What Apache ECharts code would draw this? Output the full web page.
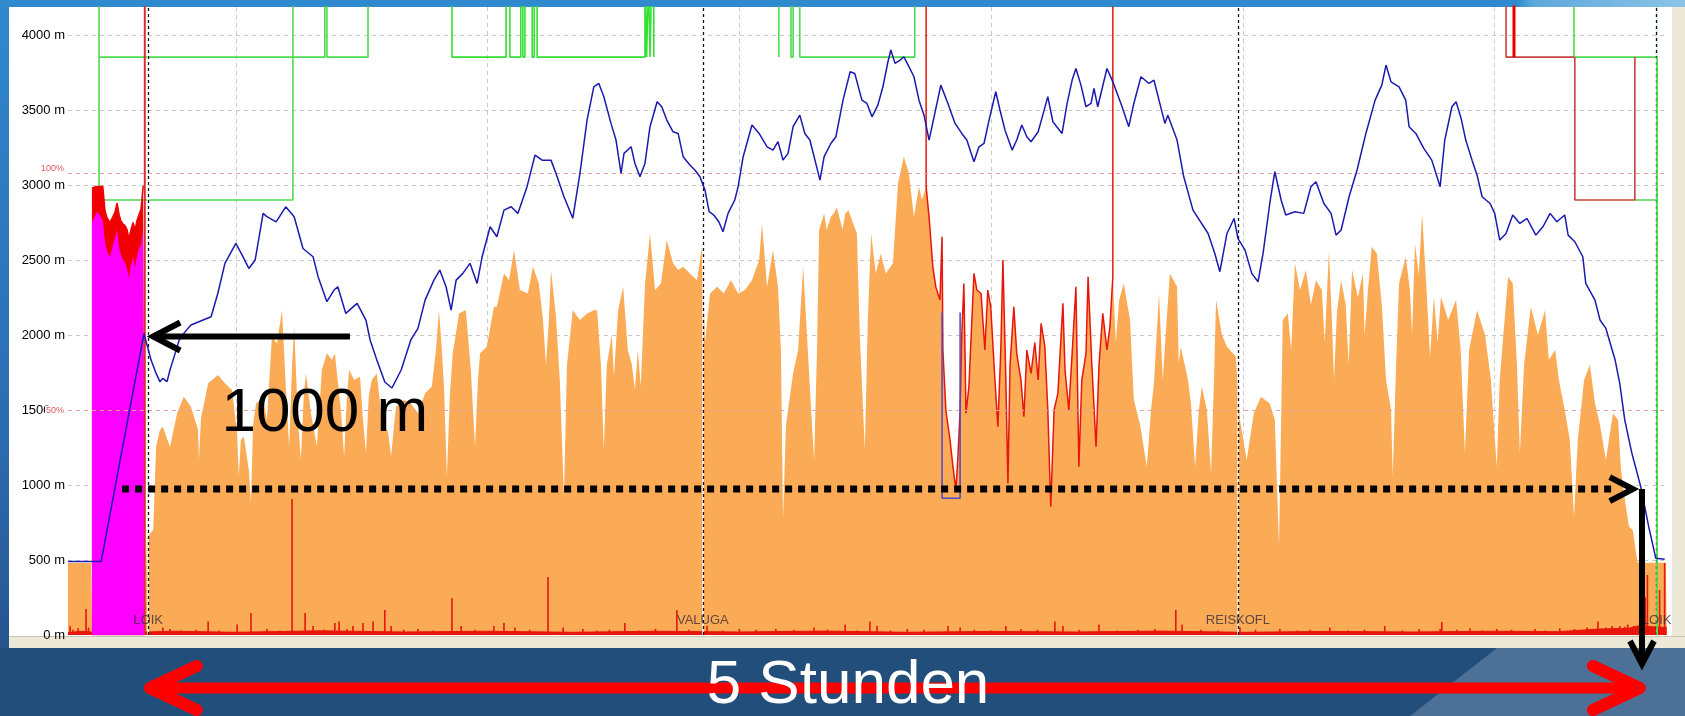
<!DOCTYPE html>
<html><head><meta charset="utf-8">
<script src="https://cdn.jsdelivr.net/npm/echarts/dist/echarts.min.js"></script>
<style>
html,body{margin:0;padding:0;width:1685px;height:716px;overflow:hidden;background:#224e7b;}
#bgTop{position:absolute;left:0;top:0;width:1685px;height:7px;background:linear-gradient(90deg,#2f8bce 0%,#2f8bce 90%,#5ea8db 91%,#8cc4e6 100%);}
#bgLeft{position:absolute;left:0;top:7px;width:9px;height:641px;background:linear-gradient(180deg,#2f88cc,#2b6aae 70%,#27558e);}
#panel{position:absolute;left:9px;top:7px;width:1663px;height:630px;background:#fff;}
#rbar{position:absolute;left:1672px;top:7px;width:13px;height:641px;background:#ece9d8;}
#bbar{position:absolute;left:9px;top:636px;width:1676px;height:12px;background:#ece9d8;border-top:1px solid #c8c5b5;box-sizing:border-box;}
#botLight{position:absolute;left:0;top:648px;width:1685px;height:68px;background:#4d7096;clip-path:polygon(1497px 0,1685px 0,1685px 68px,1410px 68px);}
#chart{position:absolute;left:0;top:0;width:1685px;height:716px;}
</style></head>
<body>
<div id="bgTop"></div><div id="bgLeft"></div><div id="panel"></div><div id="rbar"></div><div id="bbar"></div><div id="botLight"></div>
<div id="chart"></div>
<script>
// ---- data (time in minutes, values in metres) ----
const TOP = 4400, MID = 3853, LOW = 2900;
const yTicks = [500,1000,1500,2000,2500,3000,3500,4000];
const gridHours = [40,100,160,220,280,340];
const waypoints = ['LOIK','VALUGA','REISKOFL','LOIK'];
const waypointTimes = [19.1,151.3,278.8,378.6];
const percentLevels = [3080,1500];
const percentLabels = ['100%','50%'];

const altitude = [[0,490],[7.9,490],[18.1,2010],[19.8,1833],[21.0,1744],[21.9,1689],[22.6,1711],[23.6,1689],[24.3,1767],[25.3,1856],[26.5,1967],[27.6,2011],[29.3,2067],[34.1,2122],[35.7,2277],[37.4,2478],[40.0,2611],[41.5,2533],[43.1,2444],[44.6,2500],[46.5,2811],[47.4,2789],[49.6,2755],[51.9,2855],[53.9,2789],[56.0,2577],[58.4,2522],[59.6,2389],[61.7,2222],[63.4,2300],[64.3,2322],[66.2,2144],[68.9,2211],[71.0,2100],[72.0,1967],[73.6,1833],[75.5,1687],[77.2,1647],[79.4,1767],[81.7,1967],[83.4,2044],[85.1,2233],[87.2,2366],[88.6,2433],[90.1,2322],[91.3,2166],[92.5,2366],[94.1,2411],[95.8,2478],[97.5,2344],[98.7,2522],[100.6,2722],[102.2,2655],[103.9,2833],[105.6,2855],[107.2,2811],[109.4,2989],[111.3,3200],[113.0,3166],[115.1,3166],[116.3,3077],[118.2,2922],[120.3,2778],[122.0,3077],[123.7,3433],[125.3,3655],[126.5,3677],[127.7,3589],[129.4,3411],[130.6,3300],[131.8,3077],[132.5,3211],[134.2,3255],[135.1,3144],[136.3,3055],[137.5,3144],[138.7,3389],[140.4,3555],[141.5,3522],[142.7,3433],[144.2,3355],[145.4,3344],[146.6,3189],[148.2,3133],[149.4,3100],[150.6,3055],[151.8,2966],[152.8,2822],[153.9,2800],[155.1,2755],[156.1,2689],[157.3,2811],[158.9,2900],[159.7,2989],[160.9,3189],[163.0,3400],[164.7,3344],[166.6,3255],[168.0,3233],[169.2,3289],[170.4,3166],[171.6,3211],[172.8,3389],[174.4,3466],[175.6,3344],[176.8,3300],[178.2,3144],[179.2,3033],[180.2,3189],[181.8,3277],[183.0,3322],[184.7,3566],[186.4,3755],[187.5,3744],[189.2,3566],[190.4,3544],[191.6,3455],[193.0,3533],[194.2,3655],[195.4,3822],[196.1,3900],[197.1,3811],[198.3,3833],[199.2,3855],[200.4,3789],[201.6,3722],[202.8,3566],[204.0,3466],[205.2,3300],[206.4,3455],[208.0,3666],[209.7,3544],[211.4,3411],[213.0,3344],[214.2,3300],[215.9,3155],[217.1,3255],[218.3,3277],[219.5,3433],[221.1,3622],[222.1,3500],[223.3,3366],[225.0,3233],[226.1,3300],[227.3,3400],[228.5,3322],[229.5,3289],[231.2,3355],[232.3,3466],[233.5,3589],[234.7,3422],[236.9,3344],[238.1,3544],[239.3,3700],[240.2,3777],[241.4,3666],[242.6,3522],[243.8,3544],[244.5,3644],[245.4,3522],[247.6,3777],[249.0,3688],[251.2,3522],[252.8,3389],[254.0,3544],[255.7,3722],[257.6,3677],[258.8,3699],[260.0,3566],[261.4,3411],[262.1,3466],[264.3,3300],[265.9,3055],[268.1,2833],[271.7,2677],[273.3,2544],[274.5,2422],[276.2,2677],[277.9,2777],[278.8,2644],[280.5,2566],[282.1,2411],[283.6,2355],[284.8,2544],[286.4,2877],[287.6,3089],[289.1,2900],[290.2,2800],[292.4,2822],[294.5,2811],[296.2,2989],[297.4,3022],[299.3,2877],[301.0,2811],[302.2,2666],[303.4,2700],[305.3,2922],[307.2,3100],[309.3,3344],[311.5,3566],[313.1,3666],[314.1,3800],[315.3,3688],[317.2,3655],[318.8,3566],[319.6,3389],[321.2,3344],[323.1,3244],[325.0,3166],[327.0,2989],[328.1,3300],[329.8,3522],[330.8,3555],[332.0,3444],[333.1,3300],[334.6,3166],[335.8,3066],[337.0,2922],[338.9,2877],[340.0,2811],[341.2,2633],[342.7,2677],[344.3,2800],[346.0,2744],[347.7,2777],[349.8,2666],[351.5,2722],[353.2,2811],[354.8,2755],[356.7,2800],[357.5,2666],[359.1,2622],[361.0,2522],[361.7,2344],[363.9,2233],[365.1,2100],[366.5,2044],[368.7,1833],[369.8,1678],[371.0,1433],[372.7,1211],[374.8,989],[376.7,722],[378.4,511],[380.5,505]];

const speed = [[0,480],[5.5,480],[5.7,0],[18.3,0],[18.8,650],[19.1,653],[20.3,700],[21.0,1253],[21.9,1367],[22.6,1389],[24.3,1253],[26.0,1478],[27.6,1589],[29.3,1522],[31.0,1367],[31.2,1167],[31.7,1450],[32.6,1567],[33.4,1678],[35.7,1733],[37.4,1678],[39.1,1633],[40.3,1344],[40.7,1056],[41.2,1300],[41.9,1322],[43.1,1100],[43.6,878],[44.1,1400],[44.8,1544],[46.5,1589],[47.4,1433],[48.6,1989],[49.8,1944],[51.0,2167],[51.9,1656],[52.7,1256],[53.4,1800],[53.9,2056],[54.8,1433],[55.5,1167],[56.2,1600],[56.7,1744],[57.9,1478],[59.3,1256],[60.5,1767],[61.7,1878],[62.9,1833],[63.6,1878],[65.1,1478],[65.8,1189],[66.5,1600],[67.0,1767],[68.2,1700],[69.6,1722],[70.3,1433],[71.0,1211],[71.7,1600],[72.4,1700],[73.6,1744],[74.8,1433],[76.3,1350],[77.0,1189],[77.7,1400],[78.2,1522],[80.1,1567],[81.7,1544],[83.4,1478],[85.1,1611],[86.7,1656],[87.7,1900],[88.4,2167],[89.1,1900],[89.6,1656],[90.3,1056],[91.0,1600],[91.7,1878],[93.2,2144],[94.8,2167],[96.0,1767],[97.0,1256],[97.7,1700],[98.2,1878],[99.8,1922],[101.5,2189],[102.2,2189],[103.9,2411],[105.1,2366],[106.3,2566],[107.7,2300],[109.6,2277],[110.8,2455],[112.2,2344],[113.2,2100],[113.9,1800],[114.6,2100],[115.1,2433],[116.3,2122],[117.2,1700],[118.2,922],[118.9,1800],[120.3,2166],[122.0,2100],[123.7,2144],[125.3,2166],[126.1,2166],[127.0,1800],[127.7,1233],[128.4,1800],[129.6,2000],[130.1,1722],[131.1,2166],[132.3,2322],[133.4,1900],[134.4,1800],[135.1,1633],[135.8,1900],[136.5,1656],[137.5,2333],[138.7,2677],[139.9,2300],[141.3,2344],[142.7,2633],[144.2,2478],[145.4,2433],[146.6,2455],[148.2,2411],[149.9,2366],[151.1,2589],[151.8,1950],[153.0,2277],[154.7,2322],[156.3,2277],[158.0,2366],[159.7,2277],[161.3,2300],[163.0,2366],[164.7,2500],[165.4,2744],[166.6,2322],[168.0,2566],[169.2,2322],[169.9,1900],[170.4,767],[171.1,1400],[172.8,1744],[174.0,1900],[175.2,2455],[176.1,2000],[177.1,1500],[177.8,1167],[178.5,1900],[179.0,2700],[180.2,2811],[180.8,2700],[181.8,2789],[182.5,2811],[183.2,2850],[184.0,2767],[184.6,2700],[185.2,2811],[186.0,2830],[186.8,2767],[188.0,2677],[188.7,2000],[189.9,1233],[190.6,2100],[191.4,2677],[192.5,2411],[193.7,2544],[194.9,2411],[196.6,2478],[197.8,3011],[199.2,3189],[200.4,3077],[201.6,2789],[202.8,2989],[203.5,2900],[204.5,2989],[205.2,2789],[206.1,2455],[206.8,2322],[207.8,2233],[208.3,2655],[208.5,1900],[209.2,1500],[210.2,1300],[210.9,1122],[211.6,967],[212.1,1200],[212.6,1500],[213.0,2000],[213.5,2344],[214.0,1478],[214.7,1656],[215.9,2411],[216.6,2300],[217.6,2277],[218.5,1900],[219.2,2300],[219.9,2189],[220.9,1700],[221.6,1389],[222.3,1900],[222.8,2500],[223.5,1700],[224.0,1011],[224.5,1800],[225.4,2189],[226.1,1878],[227.1,1700],[227.8,1456],[228.5,1900],[229.5,1744],[230.4,1950],[231.2,1700],[231.9,2078],[232.8,1922],[233.5,1500],[234.2,856],[235.0,1500],[235.9,1611],[237.1,2211],[237.6,1767],[238.5,1500],[239.3,1878],[240.2,2322],[240.9,1122],[241.6,1700],[242.6,1878],[243.1,2389],[244.0,1800],[245.0,1256],[245.7,1800],[246.6,2144],[247.6,1900],[248.3,2056],[249.0,2389],[249.7,1950],[250.5,2233],[251.6,2344],[253.1,2100],[254.0,1567],[255.5,1400],[257.1,1122],[258.1,1500],[258.8,1678],[260.0,2277],[260.9,1700],[261.6,2011],[262.6,2411],[264.3,2322],[264.7,1811],[265.2,1922],[266.9,1700],[267.6,1544],[268.6,1122],[269.5,1500],[270.2,1656],[271.4,1500],[272.4,1078],[273.1,1700],[273.6,2233],[275.0,2000],[276.2,1922],[278.3,1856],[279.3,1433],[280.9,1167],[282.6,1478],[284.3,1589],[286.4,1544],[287.6,1433],[288.6,589],[289.5,2100],[290.7,2144],[291.5,1900],[292.4,2478],[293.6,2300],[295.0,2433],[296.2,2200],[297.4,2366],[298.8,2300],[299.5,1950],[300.5,2566],[301.2,2100],[301.7,1700],[302.4,2150],[303.4,2366],[304.5,2200],[305.2,1800],[306.0,2433],[307.4,2250],[308.6,2411],[309.0,2000],[309.8,2300],[310.7,2589],[311.9,2544],[313.1,2200],[314.1,1700],[315.3,1500],[315.7,1056],[316.5,1800],[317.2,2344],[318.8,2522],[319.8,2300],[320.3,2000],[321.0,2611],[321.9,2400],[322.7,2811],[323.8,2277],[324.6,1850],[325.5,2255],[326.4,1950],[327.2,2255],[328.9,2100],[330.8,2233],[331.9,1900],[332.9,1211],[333.9,1900],[335.8,2166],[337.7,2000],[339.1,1700],[339.8,1400],[340.5,1122],[341.2,1700],[343.2,2389],[344.3,2344],[345.3,1800],[346.0,1211],[347.0,1800],[348.6,2189],[350.3,2000],[352.0,2166],[352.9,1833],[354.4,1900],[355.3,1700],[356.7,1500],[357.9,1300],[358.9,789],[359.8,1300],[361.3,1700],[362.7,1800],[363.9,1544],[365.1,1400],[366.5,1167],[367.5,1350],[368.2,1478],[369.4,1433],[370.1,1100],[370.8,944],[372.0,722],[372.9,700],[373.7,544],[374.1,482],[380.8,482],[381.0,0]];

const redStart = 204.5, redEnd = 249.0;

const liftEdge = [[5.7,2980],[6.9,2990],[7.6,2990],[8.3,2990],[8.8,2830],[9.3,2780],[10.0,2750],[10.7,2790],[11.2,2820],[11.7,2880],[12.2,2800],[12.6,2760],[13.1,2740],[13.6,2730],[14.1,2700],[14.5,2640],[15.0,2700],[15.5,2750],[16.0,2700],[16.4,2760],[16.9,2800],[17.4,2840],[17.9,2990],[18.3,2990]];
const liftFill = [[5.7,2750],[6.9,2820],[7.6,2800],[8.3,2760],[8.8,2620],[9.3,2560],[10.0,2520],[10.7,2600],[11.2,2650],[11.7,2700],[12.2,2580],[12.6,2540],[13.1,2500],[13.6,2480],[14.1,2440],[14.5,2380],[15.0,2470],[15.5,2520],[16.0,2450],[16.4,2520],[16.9,2580],[17.4,2600],[17.9,2700],[18.3,2700]];

const varioSpikes = [[0.5,60],[1.2,35],[2.4,45],[4.3,173],[4.9,50],[22.6,50],[24.3,40],[27.0,30],[30.5,35],[33.4,90],[36.0,30],[40.3,70],[43.6,147],[47.4,40],[50.5,30],[53.4,907],[56.5,147],[58.4,60],[61.0,35],[63.6,80],[64.6,90],[66.5,40],[67.9,60],[70.3,80],[72.7,90],[75.5,167],[77.0,60],[80.0,35],[83.4,40],[87.0,30],[91.5,245],[93.7,60],[97.0,35],[101.5,60],[103.9,80],[106.5,50],[110.0,35],[114.4,387],[118.0,50],[122.7,40],[126.0,30],[129.0,35],[132.7,80],[136.0,30],[140.0,40],[145.1,167],[148.0,35],[152.3,60],[156.0,30],[160.0,40],[164.0,35],[168.7,40],[173.0,35],[177.8,50],[181.0,35],[185.2,70],[188.0,30],[191.1,90],[192.8,60],[196.0,30],[200.0,40],[204.0,35],[209.7,60],[212.6,50],[216.0,35],[220.0,30],[223.5,60],[227.1,40],[231.0,35],[235.2,90],[237.1,60],[241.0,35],[245.7,70],[250.0,30],[255.0,35],[259.0,40],[264.0,167],[265.5,70],[270.0,35],[274.0,30],[279.3,50],[283.0,35],[288.8,40],[293.0,30],[296.0,35],[300.7,50],[305.0,30],[309.0,35],[313.8,60],[318.0,30],[322.0,40],[327.0,40],[327.4,87],[331.0,35],[334.1,45],[337.0,30],[340.5,40],[344.0,35],[349.6,40],[352.0,30],[355.5,45],[359.0,40],[362.0,50],[364.6,90],[366.5,50],[368.0,60],[369.8,60],[371.0,55],[371.7,70],[373.1,60],[375.9,250],[376.4,400],[379.3,300],[380.5,480]];
const varioBase = [[0,15],[3,25],[5.6,20],[5.7,0],[18.3,0],[18.4,20],[25,25],[40,18],[60,28],[80,20],[100,25],[120,18],[140,25],[160,20],[180,26],[200,18],[220,24],[240,20],[260,26],[280,18],[300,24],[320,20],[340,25],[355,22],[365,40],[372,45],[374,60],[381,50]];

// state lines (green / red)
const greenA = [[7.4,TOP],[7.4,MID],[61.2,MID],[61.2,TOP],[61.7,TOP],[61.7,MID],[71.5,MID],[71.5,TOP]];
const greenB = [[7.4,MID],[7.4,LOW],[53.6,LOW],[53.6,TOP]];
const greenC = [[91.5,TOP],[91.5,MID],[104.4,MID],[104.4,TOP],[105.3,TOP],[105.3,MID],[107.9,MID],[107.9,TOP],[108.4,TOP],[108.4,MID],[108.9,MID],[108.9,TOP],[110.6,TOP],[110.6,MID],[111.1,MID],[111.1,TOP],[111.8,TOP],[111.8,MID],[137.5,MID],[137.5,TOP],[137.9,TOP],[137.9,MID],[138.3,MID],[138.3,TOP],[138.7,TOP],[138.7,MID],[139.1,MID],[139.1,TOP],[139.6,TOP],[139.6,MID],[139.6,TOP]];
const greenD = [[169.4,TOP],[169.4,MID]];
const greenE = [[172.3,TOP],[172.3,MID],[172.8,MID],[172.8,TOP],[174.4,TOP],[174.4,MID],[201.8,MID],[201.8,TOP]];
const greenF = [[358.9,TOP],[358.9,MID],[378.7,MID],[378.7,TOP]];
const greenG = [[373.4,LOW],[378.7,LOW]];
const greenH = [[378.7,MID],[378.7,0]];
const redLeft = [[18.3,TOP],[18.3,0]];
const redA = [[342.7,TOP],[342.7,MID],[358.9,MID]];
const redB = [[344.6,TOP],[344.6,MID]];
const redC = [[359.1,MID],[359.1,LOW],[373.4,LOW],[373.4,MID]];
const blueBox = [[208.3,2150],[208.3,911],[212.6,911],[212.6,2150]];

// ---- chart ----
const chart = echarts.init(document.getElementById('chart'), null, {renderer:'canvas'});
const FONT = '"Liberation Sans", Arial, sans-serif';
function poly(data, color, width, z){
  return {type:'line', data:data, symbol:'none', silent:true, clip:true, z:z,
    lineStyle:{color:color, width:width}};
}
const redSegment = [[redStart,TOP]].concat(speed.filter(p=>p[0]>=redStart && p[0]<=redEnd)).concat([[redEnd,TOP]]);

const option = {
  animation:false,
  backgroundColor:'transparent',
  grid:{left:68, right:17, top:7, bottom:81, containLabel:false},
  xAxis:{type:'value', min:0, max:381.3, show:true,
    axisLine:{show:false}, axisTick:{show:false}, axisLabel:{show:false}, splitLine:{show:false}},
  yAxis:{type:'value', min:0, max:4187, interval:500,
    axisLine:{show:false}, axisTick:{show:false}, splitLine:{show:false},
    axisLabel:{show:true, showMaxLabel:false, formatter:v=>v+' m', color:'#000', fontSize:13, fontFamily:FONT, margin:3}},
  series:[
    {type:'line', name:'speed', data:speed, symbol:'none', silent:true, z:2,
     lineStyle:{width:0}, areaStyle:{color:'#fbaa55', opacity:1},
     markLine:{silent:true, z:1, symbol:['none','none'], label:{show:false},
       lineStyle:{color:'#c9c9c9', type:[4,4], width:1},
       data: yTicks.map(v=>({yAxis:v})).concat(gridHours.map(t=>({xAxis:t})))}},
    Object.assign(poly(redSegment,'#e8160c',1.5,3), {name:'speedRed'}),
    {type:'line', name:'varioBase', data:varioBase, symbol:'none', silent:true, z:3,
     lineStyle:{color:'#e8160c', width:1}, areaStyle:{color:'#e8160c', opacity:1}},
    {type:'bar', name:'vario', data:varioSpikes, barWidth:1.6, silent:true, z:3,
     itemStyle:{color:'#e8160c'}},
    poly(greenA,'#4ddc4d',1.6,3), poly(greenB,'#4ddc4d',1.6,3), poly(greenC,'#33e033',1.6,3),
    poly(greenD,'#4ddc4d',1.6,3), poly(greenE,'#4ddc4d',1.6,3), poly(greenF,'#4ddc4d',1.6,3),
    poly(greenG,'#4ddc4d',1.6,3), poly(greenH,'#4ddc4d',1.8,6),
    {type:'line', name:'liftEdge', data:liftEdge, symbol:'none', silent:true, z:4,
     lineStyle:{color:'#f00000', width:1.5}, areaStyle:{color:'#f00000', opacity:1}},
    {type:'line', name:'liftFill', data:liftFill, symbol:'none', silent:true, z:4,
     lineStyle:{width:0}, areaStyle:{color:'#ff00ff', opacity:1}},
    poly(redLeft,'#d83030',2,5), poly(redA,'#cc4040',1.6,5), poly(redB,'#e00000',3,5), poly(redC,'#cc4040',1.6,5),
    poly(blueBox,'#4a4ac8',1.5,5),
    {type:'line', name:'whiteUnder', data:[], silent:true, z:4,
     markLine:{silent:true, z:4, symbol:['none','none'], label:{show:false},
       lineStyle:{color:'#ffffff', type:'solid', width:1.5},
       data: waypointTimes.map(t=>({xAxis:t}))}},
    {type:'line', name:'altitude', data:altitude, symbol:'none', silent:true, z:6,
     lineStyle:{color:'#1a1ab0', width:1.5},
     markLine:{silent:true, z:5, symbol:['none','none'],
       lineStyle:{color:'#e3a2a2', type:[4,4], width:1},
       data: percentLevels.map((v,i)=>({yAxis:v, label:{show:true, position:'start', distance:3,
         formatter:percentLabels[i], color:'#e05a5a', fontSize:9, fontFamily:FONT,
         backgroundColor: i===1 ? '#ffffff' : 'transparent', padding:[0,1,0,1],
         offset: i===0 ? [0,-5] : [0,0]}}))}},
    {type:'line', name:'waypointLines', data:[], silent:true, z:5,
     markLine:{silent:true, z:5, symbol:['none','none'], label:{show:false},
       lineStyle:{color:'#111', type:[3,3], width:1.3},
       data: waypointTimes.map(t=>({xAxis:t}))}},
    {type:'scatter', name:'waypoints', symbolSize:0, silent:true, z:7,
     data: waypointTimes.map((t,i)=>({value:[t,100], name:waypoints[i]})),
     label:{show:true, position:'inside', formatter:'{b}', color:'#3a2e3a', fontSize:13, fontFamily:FONT}}
  ]
};
chart.setOption(option);

// ---- slide annotations (anchored to data positions) ----
const ann = {arrowLevel:1990, arrowFrom:67.2, arrowShaftEnd:21.9, arrowTip:20.3,
  textT:61.2, textLevel:1477, dotLevel:973, dotFrom:12.9, dotEnd:369.1, dotTip:372.9,
  dropT:375.1, spanStart:19.5, spanEnd:374.6};
const P = (t,v)=>chart.convertToPixel({xAxisIndex:0, yAxisIndex:0}, [t,v]);
function seg(a,b,color,w,dash){ return {type:'line', z:100, silent:true, shape:{x1:a[0],y1:a[1],x2:b[0],y2:b[1]},
  style:{stroke:color, lineWidth:w, lineDash:dash||null, lineCap:'butt'}}; }
function chev(tip,w1,w2,color,w,cap){ return {type:'polyline', z:100, silent:true, shape:{points:[w1,tip,w2]},
  style:{stroke:color, fill:null, lineWidth:w, lineJoin: cap==='round'?'round':'miter', lineCap:cap||'butt'}}; }
function txt(x,y,s,color){ return {type:'text', z:101, silent:true, x:x, y:y,
  style:{text:s, font:'62px '+FONT, fill:color, align:'center', verticalAlign:'middle', textAlign:'center', textVerticalAlign:'middle'}}; }

const els = [];
const a0 = P(ann.arrowFrom, ann.arrowLevel), a1 = P(ann.arrowShaftEnd, ann.arrowLevel), at = P(ann.arrowTip, ann.arrowLevel);
els.push(seg(a0,a1,'#000',6));
els.push(chev(at,[at[0]+27,at[1]-14],[at[0]+27,at[1]+14],'#000',6));
const tp = P(ann.textT, ann.textLevel);
els.push(txt(tp[0], tp[1], '1000 m', '#000'));
const d0 = P(ann.dotFrom, ann.dotLevel), d1 = P(ann.dotEnd, ann.dotLevel), dt = P(ann.dotTip, ann.dotLevel);
els.push(seg(d0,d1,'#000',7,[7,6]));
els.push(chev(dt,[dt[0]-23,dt[1]-12],[dt[0]-23,dt[1]+12],'#000',6));
const v0 = P(ann.dropT, ann.dotLevel);
els.push(seg([v0[0],v0[1]],[v0[0],661],'#000',6));
els.push(chev([v0[0],664],[v0[0]-12,641],[v0[0]+12,641],'#000',6));
const s0 = P(ann.spanStart,0), s1 = P(ann.spanEnd,0);
els.push(seg([s0[0]+5,688],[s1[0]-5,688],'#ff0000',11));
els.push(chev([s0[0],688],[s0[0]+47,666],[s0[0]+47,710],'#ff0000',12,'round'));
els.push(chev([s1[0],688],[s1[0]-47,666],[s1[0]-47,710],'#ff0000',12,'round'));
els.push(txt(848, 686, '5 Stunden', '#ffffff'));
chart.setOption({graphic:{elements:els}});
</script>
</body></html>
